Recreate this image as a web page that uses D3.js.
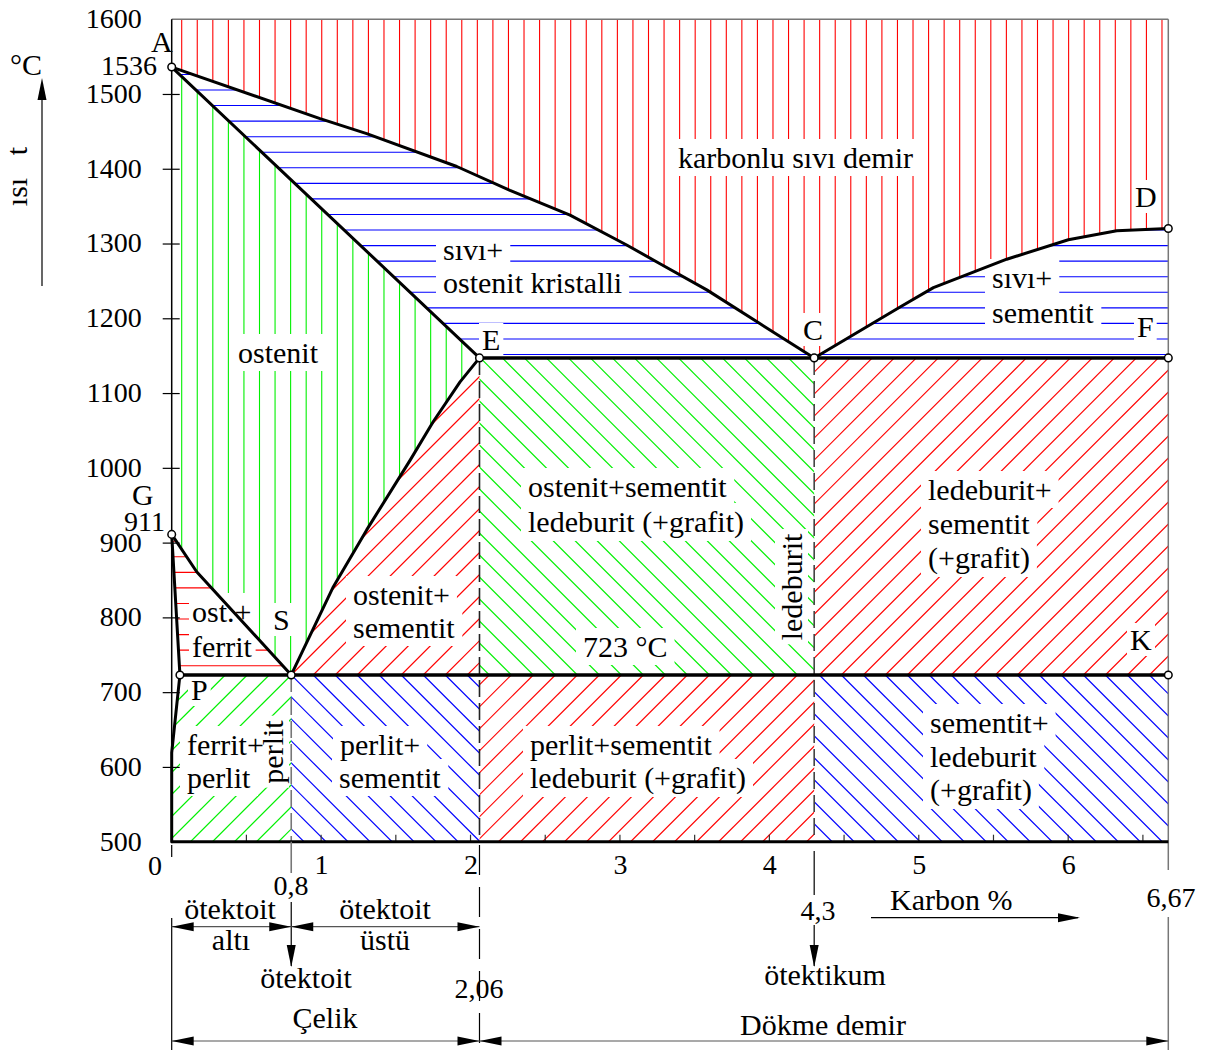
<!DOCTYPE html>
<html>
<head>
<meta charset="utf-8">
<title>Demir–karbon denge diyagramı</title>
<script src="https://cdn.jsdelivr.net/npm/d3@7/dist/d3.min.js"></script>
<style>
  html, body { margin: 0; padding: 0; background: #fff; }
  svg { display: block; }
  text { font-family: "Liberation Serif", "Times New Roman", Times, serif; fill: #000; }
</style>
</head>
<body>
<svg id="chart" width="1207" height="1053"></svg>
<script>
// ---- data: carbon content (%) and temperature (°C) ----
const tempTicks = [500, 600, 700, 800, 900, 1000, 1100, 1200, 1300, 1400, 1500, 1600];
const carbonLabels = [1, 2, 3, 4, 5, 6];
const carbonMinorTicks = [0.5, 1, 1.5, 2, 2.5, 3, 3.5, 4, 4.5, 5, 5.5, 6, 6.5];

// phase boundaries
const liquidusAC = [[0,1536],[0.993,1467],[1.305,1447],[1.908,1403],[2.264,1371],[2.666,1338],[3.045,1298],[3.268,1273],[3.581,1238],[3.936,1193],[4.3,1147]];
const liquidusCD = [[4.3,1147],[4.875,1215],[5.098,1241],[5.589,1279],[6.001,1305],[6.325,1317],[6.67,1320]];
const solidusAE = [[0,1536],[2.06,1147]];
const acmSE = [[0.8,723],[1.082,841],[1.305,917],[1.595,1010],[1.751,1062],[1.93,1115],[2.06,1147]];
const a3GS = [[0,911],[0.167,861],[0.8,723]];
const solvusGP = [[0,911],[0.055,723],[0,619],[0,500]];
const eutecticLine = [[2.06,1147],[6.67,1147]];
const eutectoidLine = [[0.055,723],[6.67,723]];

// characteristic points
const pointNames = ["A","G","P","S","E","C","D","F","K"];
const pointCarbon = [0, 0, 0.055, 0.8, 2.06, 4.3, 6.67, 6.67, 6.67];
const pointTemp = [1536, 911, 723, 723, 1147, 1147, 1320, 1147, 723];

// composition limits
const cMax = 6.67, cEutectoid = 0.8, cSteel = 2.06, cEutectic = 4.3;
const tMin = 500, tMax = 1600, tEutectic = 1147, tEutectoid = 723;

// ---- scales ----
const x = d3.scaleLinear().domain([0, cMax]).range([171.7, 1168.3]);
const y = d3.scaleLinear().domain([tMin, tMax]).range([841.7, 19.2]);

const svg = d3.select('#chart');
const defs = svg.append('defs');
const hatchLayer = svg.append('g');
const labelBgLayer = svg.append('g');
const lineLayer = svg.append('g');
const textLayer = svg.append('g');
const pointLayer = svg.append('g');

const P = d => [x(d[0]), y(d[1])];
const lineGen = d3.line().x(d => x(d[0])).y(d => y(d[1]));

// ---- hatching of phase fields ----
const STEP = 15.56;
const DIAG = STEP * Math.SQRT2;
const vOrigin = x(0) + 10;
const hOrigin = y(tEutectic) - 3.4;
const slashOrigin = x(cEutectoid) + y(tEutectoid);
const backOrigin = y(tEutectoid) - x(cEutectoid);
let clipCount = 0;

function hatch(poly, kind, color) {
  const pts = poly.map(P);
  const id = 'field' + (clipCount++);
  defs.append('clipPath').attr('id', id)
    .append('path').attr('d', 'M' + pts.map(p => p.join(',')).join('L') + 'Z');
  const diagonal = kind === '/' || kind === '\\';
  const g = hatchLayer.append('g').attr('clip-path', `url(#${id})`);
  const [x0, x1] = d3.extent(pts, p => p[0]);
  const [y0, y1] = d3.extent(pts, p => p[1]);
  const segs = [];
  if (kind === 'v') {
    for (let k = Math.ceil((x0 - vOrigin) / STEP); vOrigin + k * STEP <= x1; k++) {
      const xx = vOrigin + k * STEP; segs.push([xx, y0, xx, y1]);
    }
  } else if (kind === 'h') {
    for (let k = Math.ceil((y0 - hOrigin) / STEP); hOrigin + k * STEP <= y1; k++) {
      const yy = hOrigin + k * STEP; segs.push([x0, yy, x1, yy]);
    }
  } else if (kind === '/') {
    for (let k = Math.ceil((x0 + y0 - slashOrigin) / DIAG); slashOrigin + k * DIAG <= x1 + y1; k++) {
      const c = slashOrigin + k * DIAG; segs.push([c - y1, y1, c - y0, y0]);
    }
  } else {
    for (let k = Math.ceil((y0 - x1 - backOrigin) / DIAG); backOrigin + k * DIAG <= y1 - x0; k++) {
      const c = backOrigin + k * DIAG; segs.push([y0 - c, y0, y1 - c, y1]);
    }
  }
  g.selectAll('line').data(segs).join('line')
    .attr('x1', d => d[0]).attr('y1', d => d[1]).attr('x2', d => d[2]).attr('y2', d => d[3])
    .attr('stroke', color).attr('stroke-width', diagonal ? 1.2 : 1.1).attr('fill', 'none');
}

const RED = '#ff0000', GREEN = '#00f000', BLUE = '#0000ff';

// liquid
hatch([[0, tMax], ...liquidusAC, ...liquidusCD.slice(1), [cMax, tMax]], 'v', RED);
// liquid + austenite
hatch([...liquidusAC, [cSteel, tEutectic]], 'h', BLUE);
// liquid + cementite
hatch([...liquidusCD, [cMax, tEutectic]], 'h', BLUE);
// austenite
hatch([[0, 1536], ...acmSE.slice().reverse(), ...a3GS.slice().reverse().slice(1)], 'v', GREEN);
// austenite + ferrite
hatch([...a3GS, [0.055, tEutectoid]], 'h', RED);
// austenite + cementite
hatch([...acmSE, [cSteel, tEutectoid]], '/', RED);
// ledeburite fields above 723 °C
hatch([[cSteel, tEutectic], [cEutectic, tEutectic], [cEutectic, tEutectoid], [cSteel, tEutectoid]], '\\', GREEN);
hatch([[cEutectic, tEutectic], [cMax, tEutectic], [cMax, tEutectoid], [cEutectic, tEutectoid]], '/', RED);
// fields below 723 °C
hatch([[0.055, tEutectoid], [cEutectoid, tEutectoid], [cEutectoid, tMin], [0, tMin], [0, 619]], '/', GREEN);
hatch([[cEutectoid, tEutectoid], [cSteel, tEutectoid], [cSteel, tMin], [cEutectoid, tMin]], '\\', BLUE);
hatch([[cSteel, tEutectoid], [cEutectic, tEutectoid], [cEutectic, tMin], [cSteel, tMin]], '/', RED);
hatch([[cEutectic, tEutectoid], [cMax, tEutectoid], [cMax, tMin], [cEutectic, tMin]], '\\', BLUE);

// ---- labels with white background ----
function label(str, px, py, o = {}) {
  const size = o.size || 30;
  const tf = `translate(${px},${py})` + (o.rotate ? ` rotate(${o.rotate})` : '');
  const t = textLayer.append('text').attr('transform', tf)
    .attr('text-anchor', o.anchor || 'start').attr('font-size', size).text(str);
  if (o.bg !== false) {
    const b = t.node().getBBox();
    const px2 = o.padX ?? 7, py2 = o.padY ?? 2;
    labelBgLayer.append('rect').attr('transform', tf)
      .attr('x', b.x - px2).attr('y', b.y - py2)
      .attr('width', b.width + 2 * px2).attr('height', b.height + 2 * py2)
      .attr('fill', '#fff');
  }
  return t;
}

// phase field names
label('karbonlu sıvı demir', 678, 168);
label('sıvı+', 443, 260);
label('ostenit kristalli', 443, 293);
label('sıvı+', 992, 288);
label('sementit', 992, 323);
label('ostenit', 238, 363);
label('ost.+', 192, 622, { padX: 3 });
label('ferrit', 192, 657, { padX: 3 });
label('ostenit+', 353, 605);
label('sementit', 353, 638);
label('ostenit+sementit', 528, 497);
label('ledeburit (+grafit)', 528, 532);
label('ledeburit+', 928, 500);
label('sementit', 928, 534);
label('(+grafit)', 928, 568);
label('723 °C', 583, 657);
label('ferrit+', 187, 755);
label('perlit', 187, 788);
label('perlit', 283, 752, { rotate: -90, anchor: 'middle', padX: 4, padY: 0 });
label('perlit+', 340, 755);
label('sementit', 339, 788);
label('perlit+sementit', 530, 755);
label('ledeburit (+grafit)', 530, 788);
label('ledeburit', 802, 587, { rotate: -90, anchor: 'middle', padX: 4, padY: 0 });
label('sementit+', 930, 733);
label('ledeburit', 930, 767);
label('(+grafit)', 930, 800);

// point letters
label('A', 151, 52, { padX: 2, padY: 0 });
label('D', 1135, 207, { padX: 3, padY: 0 });
label('E', 482, 350, { padX: 3, padY: 0 });
label('C', 803, 340, { padX: 3, padY: 0 });
label('F', 1137, 337, { padX: 3, padY: 0 });
label('G', 132, 505, { bg: false });
label('S', 273, 630, { padX: 3, padY: 0 });
label('P', 191, 700, { padX: 3, padY: 0 });
label('K', 1130, 650, { padX: 3, padY: 0 });
label('1536', 157, 75, { size: 28, anchor: 'end', bg: false });
label('911', 165, 531, { size: 28, anchor: 'end', bg: false });

// ---- frame and axes ----
lineLayer.append('line').attr('x1', x(0)).attr('x2', x(cMax)).attr('y1', y(tMax)).attr('y2', y(tMax))
  .attr('stroke', '#777').attr('stroke-width', 1.5);
lineLayer.append('line').attr('x1', x(cMax)).attr('x2', x(cMax)).attr('y1', y(tMax)).attr('y2', 870)
  .attr('stroke', '#777').attr('stroke-width', 1.5);
lineLayer.append('line').attr('x1', x(cMax)).attr('x2', x(cMax)).attr('y1', 917).attr('y2', 1050)
  .attr('stroke', '#777').attr('stroke-width', 1.5);
lineLayer.append('line').attr('x1', x(0)).attr('x2', x(0)).attr('y1', y(tMax)).attr('y2', y(619))
  .attr('stroke', '#000').attr('stroke-width', 1.5);

// temperature axis
const yAxis = d3.axisLeft(y).tickValues(tempTicks).tickSize(0).tickPadding(30).tickFormat(d3.format('d'));
const yAxisG = lineLayer.append('g').attr('transform', `translate(${x(0)},0)`).call(yAxis);
yAxisG.attr('font-family', null);
yAxisG.select('.domain').remove();
yAxisG.selectAll('.tick text').attr('font-size', 28).attr('fill', '#000').attr('dy', '0.3em');
yAxisG.selectAll('.tick').filter(d => d > tMin && d < tMax).append('line')
  .attr('x1', -9).attr('x2', 8).attr('stroke', '#000').attr('stroke-width', 1.2);

// carbon axis
const xAxis = d3.axisBottom(x).tickValues(carbonLabels).tickSize(0).tickPadding(12).tickFormat(d3.format('d'));
const xAxisG = lineLayer.append('g').attr('transform', `translate(0,${y(tMin)})`).call(xAxis);
xAxisG.attr('font-family', null);
xAxisG.select('.domain').remove();
xAxisG.selectAll('.tick text').attr('font-size', 28).attr('fill', '#000');
lineLayer.append('text').attr('x', 155).attr('y', 875).attr('text-anchor', 'middle').attr('font-size', 28).text('0');
lineLayer.append('g').selectAll('line').data(carbonMinorTicks).join('line')
  .attr('x1', d => x(d)).attr('x2', d => x(d)).attr('y1', y(tMin)).attr('y2', y(tMin) - 7)
  .attr('stroke', '#333').attr('stroke-width', 1.2);

// dashed composition markers
function dashed(c, tTop, color) {
  lineLayer.append('line').attr('x1', x(c)).attr('x2', x(c)).attr('y1', y(tTop)).attr('y2', y(tMin))
    .attr('stroke', color).attr('stroke-width', 1.6).attr('stroke-dasharray', '17,6');
}
dashed(cEutectoid, tEutectoid, '#777');
dashed(cSteel, tEutectic, '#222');
dashed(cEutectic, tEutectic, '#444');

// phase boundaries
const bold = (data, w) => lineLayer.append('path').datum(data).attr('d', lineGen)
  .attr('fill', 'none').attr('stroke', '#000').attr('stroke-width', w)
  .attr('stroke-linejoin', 'round').attr('stroke-linecap', 'round');
bold(liquidusAC, 3);
bold(liquidusCD, 3);
bold(solidusAE, 3);
bold(acmSE, 3);
bold(a3GS, 3);
bold(solvusGP, 3);
bold(eutecticLine, 3.5);
bold(eutectoidLine, 3.5);
lineLayer.append('line').attr('x1', x(0)).attr('x2', x(cMax)).attr('y1', y(tMin)).attr('y2', y(tMin))
  .attr('stroke', '#000').attr('stroke-width', 3);

// characteristic points
pointLayer.selectAll('circle').data(pointNames).join('circle')
  .attr('cx', (d, i) => x(pointCarbon[i])).attr('cy', (d, i) => y(pointTemp[i]))
  .attr('r', 3.8).attr('fill', '#fff').attr('stroke', '#000').attr('stroke-width', 1.5);

// ---- arrows and dimension lines below the diagram ----
function arrowHead(px, py, dir) {
  const L = 22, w = 4.5;
  let pts;
  if (dir === 'r') pts = [[px, py], [px - L, py - w], [px - L, py + w]];
  if (dir === 'l') pts = [[px, py], [px + L, py - w], [px + L, py + w]];
  if (dir === 'd') pts = [[px, py], [px - w, py - L], [px + w, py - L]];
  if (dir === 'u') pts = [[px, py], [px - w, py + L], [px + w, py + L]];
  lineLayer.append('path').attr('d', 'M' + pts.map(p => p.join(',')).join('L') + 'Z').attr('fill', '#000');
}
function seg(x1, y1, x2, y2, color = '#333', w = 1.2, dash = null) {
  const l = lineLayer.append('line').attr('x1', x1).attr('y1', y1).attr('x2', x2).attr('y2', y2)
    .attr('stroke', color).attr('stroke-width', w);
  if (dash) l.attr('stroke-dasharray', dash);
}
function dimension(c1, c2, py) {
  seg(x(c1), py, x(c2), py, '#555', 1.2);
  arrowHead(x(c1), py, 'l');
  arrowHead(x(c2), py, 'r');
}

// extension lines
seg(x(0), 845, x(0), 857, '#000', 1.2);
seg(x(0), 918, x(0), 1050, '#000', 1.2);
seg(x(cEutectoid), y(tMin), x(cEutectoid), 873, '#777', 1.6);
seg(x(cEutectoid), 902, x(cEutectoid), 966, '#000', 1.2);
arrowHead(x(cEutectoid), 967, 'd');
seg(x(cSteel), 845, x(cSteel), 1050, '#000', 1.2, '30,12');
seg(x(cEutectic), 851, x(cEutectic), 895, '#000', 1.2);
seg(x(cEutectic), 925, x(cEutectic), 966, '#000', 1.2);
arrowHead(x(cEutectic), 967, 'd');

dimension(0, cEutectoid, 926.7);
dimension(cEutectoid, cSteel, 926.7);
dimension(0, cSteel, 1041);
dimension(cSteel, cMax, 1041);

// carbon arrow
seg(871, 917.7, 1078, 917.7, '#000', 1.2);
arrowHead(1080, 917.7, 'r');
// temperature arrow
seg(42, 286, 42, 90, '#000', 1.2);
arrowHead(42, 78, 'u');

// texts below the diagram
label('0,8', 291, 895, { size: 28, anchor: 'middle', padX: 2, padY: 0 });
label('4,3', 818, 920, { size: 28, anchor: 'middle', padX: 2, padY: 0 });
label('2,06', 479, 998, { size: 28, anchor: 'middle', padX: 2, padY: 0 });
label('6,67', 1171, 907, { size: 28, anchor: 'middle', padX: 2, padY: 0 });
label('ötektoit', 230, 919, { anchor: 'middle', bg: false });
label('altı', 231, 950, { anchor: 'middle', bg: false });
label('ötektoit', 385, 919, { anchor: 'middle', bg: false });
label('üstü', 385, 950, { anchor: 'middle', bg: false });
label('ötektoit', 306, 988, { anchor: 'middle', bg: false });
label('Çelik', 325, 1028, { anchor: 'middle', bg: false });
label('Dökme demir', 823, 1035, { anchor: 'middle', bg: false });
label('ötektikum', 825, 985, { anchor: 'middle', bg: false });
label('Karbon %', 890, 910, { bg: false });

// temperature axis title
label('°C', 26, 75, { anchor: 'middle', bg: false });
label('t', 27, 151, { rotate: -90, anchor: 'middle', bg: false });
label('ısı', 27, 192, { rotate: -90, anchor: 'middle', bg: false });
</script>
</body>
</html>
